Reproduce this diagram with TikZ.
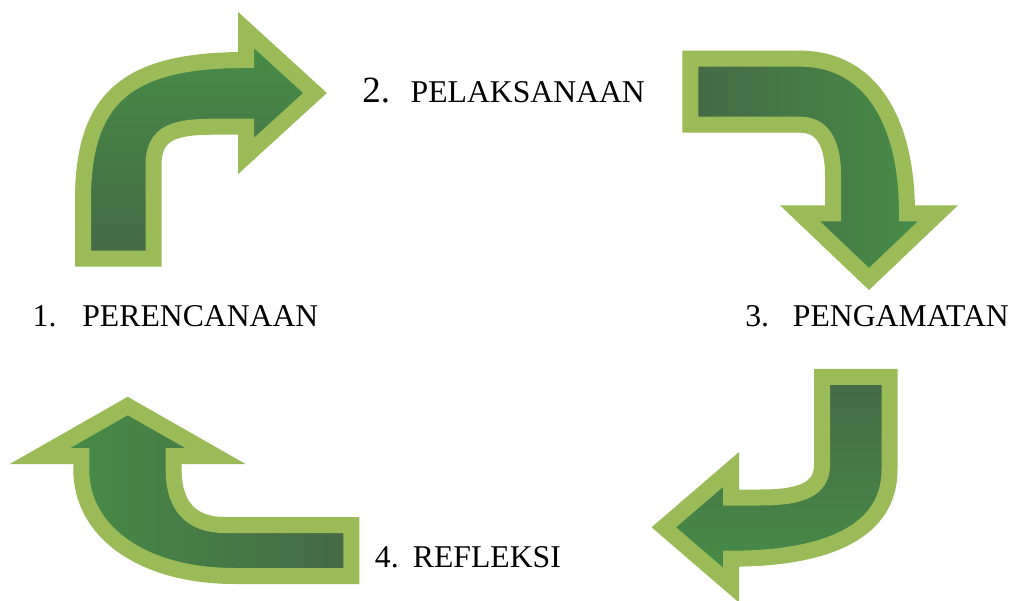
\documentclass[tikz,border=0pt]{standalone}
\usepackage{fontspec}
\setmainfont{Liberation Serif}
\usepackage{tikz}
\usepackage{xcolor}

\definecolor{rimgreen}{HTML}{9BBB59}
\definecolor{deepgreen}{HTML}{466946}
\definecolor{leafgreen}{HTML}{478E47}

\tikzset{
  bentarrow/.style={draw=rimgreen, line width=16pt, line join=miter},
  steplabel/.style={anchor=base west, inner sep=0pt, font=\fontsize{31.7}{38}\selectfont}
}

\begin{document}
\begin{tikzpicture}[x=1pt,y=-1pt]
\useasboundingbox (0,0) rectangle (1012,601);
\path[bentarrow, bottom color=deepgreen, top color=leafgreen] (83,258.7) -- (83,200) .. controls (83,95) and (130,60) .. (246,60) -- (246,30) -- (315,93) -- (246,156) -- (246,126.7) -- (215,126.7) .. controls (175,126.7) and (153.5,132) .. (153.5,165) -- (153.5,258.7) -- cycle;
\path[bentarrow, left color=deepgreen, right color=leafgreen] (690.3,58.7) -- (800,58.7) .. controls (870,58.7) and (907,120) .. (907,213.3) -- (938,213.3) -- (869,279) -- (800,213.3) -- (833,213.3) -- (833,175) .. controls (833,142) and (822,124.7) .. (800,124.7) -- (690.3,124.7) -- cycle;
\path[bentarrow, top color=deepgreen, bottom color=leafgreen] (822,377) -- (889.5,377) -- (889.5,470) .. controls (889.5,530) and (830,558.7) .. (731,558.7) -- (731,585.1) -- (663.8,527.3) -- (731,469.5) -- (731,497.5) -- (760,497.5) .. controls (800,497.5) and (822,490) .. (822,465) -- cycle;
\path[bentarrow, right color=deepgreen, left color=leafgreen] (351.3,525) -- (225,525) .. controls (190,525) and (173.7,505) .. (173.7,470) -- (173.7,456) -- (215.4,456) -- (127.7,406) -- (40,456) -- (81.3,456) -- (81.3,470) .. controls (81.3,530) and (140,576) .. (235,576) -- (351.3,576) -- cycle;
\node[steplabel] (plan) at (32.5,327) {1.\hspace{25.9pt}PERENCANAAN};
\node[steplabel] (act) at (362.2,103) {{\fontsize{37}{40}\selectfont 2.}\hspace{20.5pt}PELAKSANAAN};
\node[steplabel] (observe) at (745.1,327) {3.\hspace{23.9pt}PENGAMATAN};
\node[steplabel] (reflect) at (374.7,567) {4.\hspace{14.3pt}REFLEKSI};
\end{tikzpicture}
\end{document}
